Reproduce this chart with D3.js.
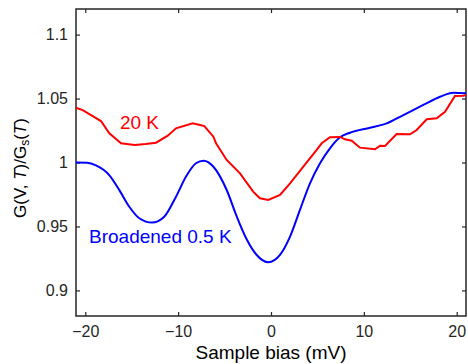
<!DOCTYPE html>
<html><head><meta charset="utf-8">
<script src="https://cdn.jsdelivr.net/npm/d3@7"></script>
<style>
body{margin:0;background:#fff;}
text{font-family:Arial,"Liberation Sans",Helvetica,sans-serif;}
</style></head>
<body><svg id="c" width="468" height="364"></svg>
<script>
// Broadened 0.5 K curve (bias mV, normalized conductance)
const blueBias = [-21,-19.8,-18.85,-17.4,-16.3,-15.26,-14.18,-12.8,-11.5,-10.23,-9.15,-8.08,-7.25,-6.2,-4.77,-3.7,-2.62,-1.54,-0.29,0.97,2.05,3.12,4.2,5.28,6.35,7.43,8.51,10.66,12.46,14.25,16.4,18.2,19.63,21];
const blueG    = [1.0,0.9998,0.9977,0.99,0.978,0.9654,0.9564,0.953,0.9576,0.9733,0.989,0.9994,1.0014,0.9967,0.9785,0.958,0.94,0.9277,0.922,0.9277,0.942,0.963,0.9837,0.9994,1.0111,1.0197,1.0233,1.0272,1.0306,1.0371,1.045,1.0514,1.0546,1.0541];
// 20 K measured curve
const redBias = [-21,-20.28,-19.38,-18.31,-17.41,-16.15,-14.72,-13.5,-12.38,-11.12,-10.23,-8.43,-7.65,-7.18,-6.2,-5.92,-4.77,-3.34,-1.9,-1.19,-0.29,0.97,2.05,3.48,4.92,5.46,6.35,7.43,7.97,8.69,9.58,11.2,11.74,12.28,13.53,14.97,15.69,16.77,17.84,18.74,19.81,20.7,21];
const redG    = [1.0428,1.041,1.0371,1.0324,1.0228,1.015,1.0137,1.0145,1.0155,1.021,1.0267,1.0306,1.0293,1.0285,1.0202,1.015,1.002,0.9915,0.977,0.972,0.9707,0.9746,0.9837,0.9967,1.0098,1.015,1.0197,1.02,1.0181,1.017,1.0116,1.0103,1.0131,1.0129,1.0223,1.022,1.0254,1.0338,1.0345,1.0397,1.052,1.0522,1.0528];
const xTicks = [-20,-10,0,10,20];
const yTicks = [0.9,0.95,1,1.05,1.1];
const yTickLabels = ["0.9","0.95","1","1.05","1.1"];

const svg = d3.select("#c");
const L=76,R=466,T=9,B=316;
const x = d3.scaleLinear().domain([-21,21]).range([L,R]);
const y = d3.scaleLinear().domain([0.88,1.12]).range([B,T]);
const axisColor="#262626";

// box
svg.append("rect").attr("x",L).attr("y",T).attr("width",R-L).attr("height",B-T)
  .attr("fill","none").attr("stroke",axisColor).attr("stroke-width",1.5);

const gx = svg.append("g").attr("transform",`translate(0,${B})`)
  .call(d3.axisBottom(x).tickValues(xTicks).tickSizeInner(-4).tickSizeOuter(0).tickPadding(10));
const gxt = svg.append("g").attr("transform",`translate(0,${T})`)
  .call(d3.axisTop(x).tickValues(xTicks).tickSizeInner(-4).tickSizeOuter(0).tickFormat(""));
const gy = svg.append("g").attr("transform",`translate(${L},0)`)
  .call(d3.axisLeft(y).tickValues(yTicks).tickSizeInner(-4).tickSizeOuter(0).tickPadding(8)
    .tickFormat((d,i)=>yTickLabels[i]));
const gyr = svg.append("g").attr("transform",`translate(${R},0)`)
  .call(d3.axisRight(y).tickValues(yTicks).tickSizeInner(-4).tickSizeOuter(0).tickFormat(""));
[gx,gxt,gy,gyr].forEach(g=>{
  g.select(".domain").remove();
  g.selectAll("line").attr("stroke",axisColor).attr("stroke-width",1.2);
  g.selectAll("text").attr("fill","#262626").style("font-size","16px").style("font-family","Arial,'Liberation Sans',sans-serif");
});

// curves
const lineB = d3.line().x((d,i)=>x(blueBias[i])).y(d=>y(d)).curve(d3.curveMonotoneX);
const lineR = d3.line().x((d,i)=>x(redBias[i])).y(d=>y(d)).curve(d3.curveLinear);
svg.append("path").attr("d",lineB(blueG)).attr("fill","none").attr("stroke","#0000ff").attr("stroke-width",2);
svg.append("path").attr("d",lineR(redG)).attr("fill","none").attr("stroke","#ff0000").attr("stroke-width",2);

// labels
svg.append("text").attr("x",139.5).attr("y",129).attr("text-anchor","middle")
  .attr("fill","#ff0000").style("font-size","19px").text("20 K");
svg.append("text").attr("x",89).attr("y",243).attr("fill","#0000ff").style("font-size","19px").text("Broadened 0.5 K");

svg.append("text").attr("x",(L+R)/2).attr("y",359).attr("text-anchor","middle")
  .attr("fill","#000").style("font-size","19px").text("Sample bias (mV)");

const yl = svg.append("text").attr("transform","translate(26,168) rotate(-90)").attr("text-anchor","middle")
  .attr("fill","#000").style("font-size","17px");
yl.append("tspan").text("G(V, ");
yl.append("tspan").attr("font-style","italic").text("T");
yl.append("tspan").text(")/G");
yl.append("tspan").attr("dy",3).style("font-size","12px").text("s");
yl.append("tspan").attr("dy",-3).text("(");
yl.append("tspan").attr("font-style","italic").text("T");
yl.append("tspan").text(")");
</script></body></html>
